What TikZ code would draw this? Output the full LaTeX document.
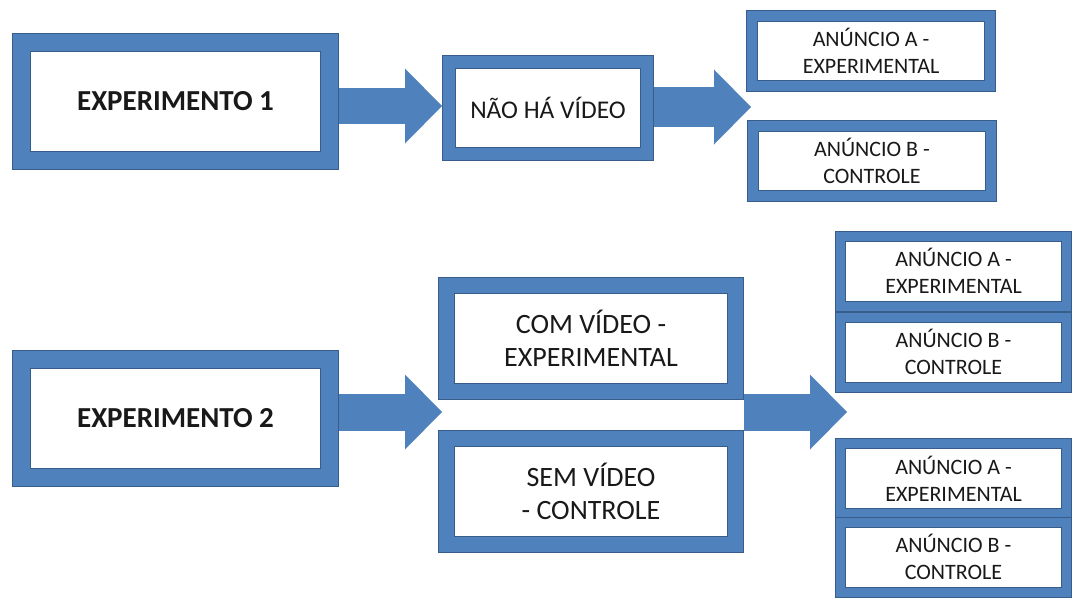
\documentclass[tikz,border=0pt]{standalone}
\usepackage{fontspec}
\setmainfont{Carlito}
\usepackage{tikz}
\usetikzlibrary{
	arrows.meta,
	calc,
	positioning,
}
\definecolor{boxblue}{HTML}{4F81BD}
\definecolor{boxedge}{HTML}{385D8A}
\tikzset{box/.style={draw=boxedge,line width=1pt,double=boxblue,double distance=#1-2pt,outer sep=#1/2,fill=white,inner sep=0pt,align=center,text=black!90}}
\tikzset{big/.style={box=19pt,minimum width=308pt,minimum height=118pt,font=\fontsize{29}{35}\selectfont\bfseries}}
\tikzset{mid/.style={box=17pt,minimum width=289pt,minimum height=106pt,font=\fontsize{28}{33}\selectfont}}
\tikzset{ad/.style={box=12pt,minimum width=238pt,minimum height=70pt,font=\fontsize{22}{27}\selectfont}}
\tikzset{ad right/.style={ad,box=11pt,minimum width=226pt}}
\tikzset{block/.style={draw=boxblue,line width=#1,-{Triangle[length=37pt,width=75pt,line width=0pt,fill=boxblue]}}}

\begin{document}
\begin{tikzpicture}[x=1pt,y=-1pt]
\useasboundingbox (0,0) rectangle (1073,597);

% experimento 1
\node[big](exp1) at(175.5,101.5) {EXPERIMENTO 1};
\node[box=14pt,minimum width=198pt,minimum height=92pt,font=\fontsize{25.5}{30}\selectfont](nao) at(548,108) {NÃO HÁ VÍDEO};
\node[ad](a1) at(871,51) {ANÚNCIO A -\\EXPERIMENTAL};
\node[ad](b1) at(872,161) {ANÚNCIO B -\\CONTROLE};

\coordinate(t1) at(442,106);
\coordinate(t2) at(751,107);
\draw[block=36pt] (exp1.east |- t1) -- (t1);
\draw[block=40pt] (nao.east |- t2) -- (t2);

% experimento 2
\node[big](exp2) at(175.5,418.5) {EXPERIMENTO 2};
\node[mid](com) at(591,338.5) {COM VÍDEO -\\EXPERIMENTAL};
\node[mid](sem) at(591,491.5) {SEM VÍDEO\\- CONTROLE};
\node[ad right](a2) at(953.5,271) {ANÚNCIO A -\\EXPERIMENTAL};
\node[ad right](b2) at(953.5,352) {ANÚNCIO B -\\CONTROLE};
\node[ad right](a3) at(953.5,478.5) {ANÚNCIO A -\\EXPERIMENTAL};
\node[ad right](b3) at(953.5,557) {ANÚNCIO B -\\CONTROLE};

\coordinate(t3) at(442,412);
\coordinate(t4) at(847,412);
\draw[block=37pt] (exp2.east |- t3) -- (t3);
\draw[block=37pt] (com.east |- t4) -- (t4);

\end{tikzpicture}
\end{document}
